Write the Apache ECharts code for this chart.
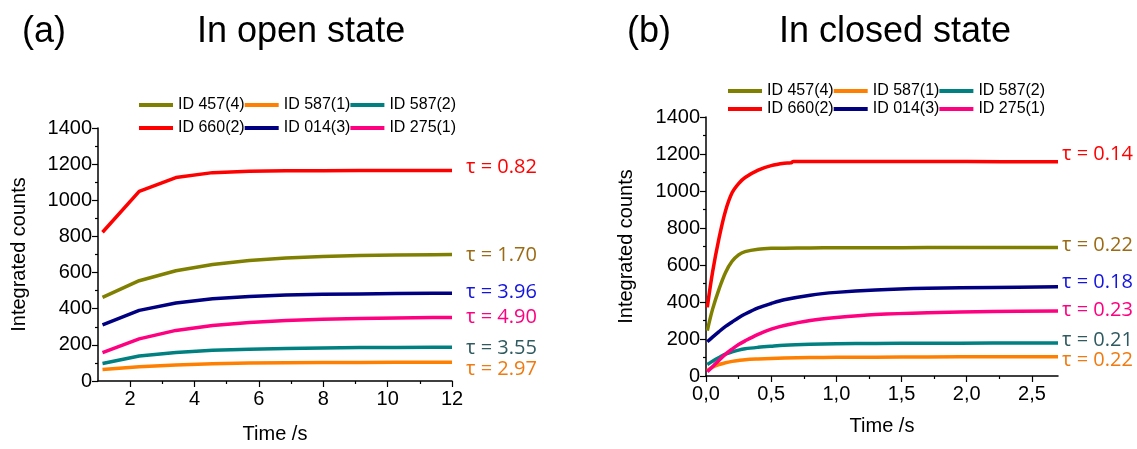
<!DOCTYPE html>
<html><head><meta charset="utf-8">
<script src="https://cdn.jsdelivr.net/npm/echarts@6/dist/echarts.min.js"></script>
<style>html,body{margin:0;padding:0;background:#fff}#c{width:1137px;height:449px}</style>
</head><body><div id="c"></div>
<script>
// ---- data ----
const seriesNames = ['ID 457(4)', 'ID 587(1)', 'ID 587(2)', 'ID 660(2)', 'ID 014(3)', 'ID 275(1)'];
const lineColors = ['#808000', '#FF8000', '#008080', '#FF0000', '#000080', '#FF0080'];
const tauColors = ['#9C6A14', '#F07A10', '#2F5A60', '#FF0000', '#1414E0', '#FF0080'];

// (a) open state
const tOpen = [1.14, 2.28, 3.42, 4.56, 5.70, 6.84, 7.98, 9.12, 10.26, 11.40, 12.0];
const open457 = [463, 555, 610, 645, 667, 681, 689, 694, 697, 699, 700];
const open587_1 = [63, 79, 89, 95, 99, 101, 102, 103, 104, 104, 104];
const open587_2 = [97, 138, 158, 170, 176, 180, 183, 185, 186, 187, 187];
const open660 = [823, 1049, 1126, 1153, 1160, 1163, 1164, 1165, 1165, 1165, 1165];
const open014 = [310, 391, 432, 455, 468, 476, 480, 482, 484, 485, 485];
const open275 = [157, 233, 280, 307, 324, 335, 342, 346, 349, 351, 352];
const tauOpen = ['1.70', '2.97', '3.55', '0.82', '3.96', '4.90'];

// (b) closed state
const tClosed = [0.01, 0.05, 0.1, 0.15, 0.2, 0.25, 0.3, 0.4, 0.5, 0.6, 0.8, 1.0, 1.3, 1.7, 2.2, 2.7];
const closed457 = [245, 360, 470, 560, 620, 655, 672, 685, 690, 691, 692, 693, 693, 694, 694, 694];
const closed587_1 = [30, 48, 62, 72, 79, 84, 88, 92, 95, 97, 100, 101, 102, 103, 104, 104];
const closed587_2 = [62, 80, 100, 118, 130, 140, 147, 155, 161, 166, 171, 174, 176, 177, 178, 178];
const closed014 = [185, 210, 240, 268, 292, 315, 335, 368, 392, 412, 437, 452, 465, 474, 479, 482];
const closed275 = [23, 50, 85, 118, 145, 170, 190, 225, 253, 273, 300, 316, 332, 342, 348, 351];
const tClosed660 = [0.01, 0.05, 0.1, 0.15, 0.2, 0.25, 0.3, 0.4, 0.5, 0.6, 0.65, 0.67, 0.9, 1.5, 2.0, 2.7];
const closed660 = [371, 560, 745, 893, 990, 1040, 1073, 1113, 1137, 1150, 1152, 1159, 1160, 1159, 1159, 1158];
const tauClosed = ['0.22', '0.22', '0.21', '0.14', '0.18', '0.23'];

// ticks
const yTicks = [0, 200, 400, 600, 800, 1000, 1200, 1400];
const xTicksOpen = [2, 4, 6, 8, 10, 12];
const xMinorOpen = [3, 5, 7, 9, 11];
const xTicksClosed = [0, 0.5, 1.0, 1.5, 2.0, 2.5];
const xMinorClosed = [0.25, 0.75, 1.25, 1.75, 2.25];

// ---- build ----
const FONT = 'Liberation Sans, Arial, sans-serif';
const openX = [tOpen, tOpen, tOpen, tOpen, tOpen, tOpen];
const openY = [open457, open587_1, open587_2, open660, open014, open275];
const closedX = [tClosed, tClosed, tClosed, tClosed660, tClosed, tClosed];
const closedY = [closed457, closed587_1, closed587_2, closed660, closed014, closed275];
const openDy = [1, 7, 1, -3, -1, 0];
const closedDy = [-2, 4, -3, -7, -5, -1];

function mk(i, xs, ys, g, tau, dy, dist, smooth) {
  return {
    type: 'line', name: seriesNames[i],
    xAxisIndex: g * 2, yAxisIndex: g,
    data: xs.map((x, k) => [x, ys[k]]),
    symbol: 'none', showSymbol: false,
    smooth: smooth,
    lineStyle: { color: lineColors[i], width: 3.5 },
    itemStyle: { color: lineColors[i] },
    endLabel: {
      show: true, formatter: 'τ = ' + tau, color: tauColors[i],
      fontSize: 20, fontFamily: 'Open Sans', distance: dist, offset: [0, dy]
    },
    emphasis: { disabled: true }
  };
}
const series = [];
for (let i = 0; i < 6; i++) series.push(mk(i, openX[i], openY[i], 0, tauOpen[i], openDy[i], 14, false));
for (let i = 0; i < 6; i++) series.push(mk(i, closedX[i], closedY[i], 1, tauClosed[i], closedDy[i], 4, 0.35));

const axisText = { fontSize: 20, color: '#000', fontFamily: FONT };
function xMain(g, min, max, ticks, fmt, gap) {
  return {
    type: 'value', gridIndex: g, position: 'bottom', min: min, max: max,
    axisLine: { show: true, onZero: false, lineStyle: { color: '#000', width: 1.5 } },
    axisTick: { show: true, length: 6, customValues: ticks, lineStyle: { color: '#000', width: 1.2 } },
    axisLabel: Object.assign({ customValues: ticks, margin: 8, formatter: fmt }, axisText),
    splitLine: { show: false },
    name: 'Time /s', nameLocation: 'middle', nameGap: gap, nameTextStyle: axisText
  };
}
function xMinor(g, min, max, ticks) {
  return {
    type: 'value', gridIndex: g, position: 'bottom', min: min, max: max,
    axisLine: { show: false, onZero: false },
    axisTick: { show: true, length: 3, customValues: ticks, lineStyle: { color: '#000', width: 1.2 } },
    axisLabel: { show: false }, splitLine: { show: false }
  };
}
function yAx(g, gap) {
  return {
    type: 'value', gridIndex: g, min: 0, max: 1400, interval: 200,
    axisLine: { show: true, lineStyle: { color: '#000', width: 1.5 } },
    axisTick: { show: true, length: 6, lineStyle: { color: '#000', width: 1.2 } },
    minorTick: { show: true, splitNumber: 2, length: 3, lineStyle: { color: '#000', width: 1.2 } },
    axisLabel: Object.assign({ margin: 6, customValues: yTicks, formatter: v => String(v) }, axisText),
    splitLine: { show: false },
    name: 'Integrated counts', nameLocation: 'middle', nameGap: gap, nameRotate: 90, nameTextStyle: axisText
  };
}
const commaFmt = v => v.toFixed(1).replace('.', ',');

function legend(names, left, top) {
  return {
    data: names, left: left, top: top, orient: 'horizontal', padding: 0,
    itemGap: 0, itemWidth: 34, itemHeight: 4, icon: 'rect',
    textStyle: { fontSize: 16, color: '#000', fontFamily: FONT }
  };
}

const option = {
  animation: false,
  backgroundColor: '#fff',
  grid: [
    { left: 98, top: 128, width: 354, height: 259 },
    { left: 706, top: 117, width: 352, height: 259 }
  ],
  xAxis: [
    xMain(0, 1, 12, xTicksOpen, v => String(v), 43),
    xMinor(0, 1, 12, xMinorOpen),
    xMain(1, 0, 2.7, xTicksClosed, commaFmt, 40),
    xMinor(1, 0, 2.7, xMinorClosed)
  ],
  yAxis: [yAx(0, 69), yAx(1, 70)],
  legend: [
    legend(seriesNames.slice(0, 3), 139, 97),
    legend(seriesNames.slice(3, 6), 139, 120),
    legend(seriesNames.slice(0, 3), 728, 83),
    legend(seriesNames.slice(3, 6), 728, 101)
  ],
  graphic: [
    { type: 'text', left: 22, top: 14, style: { text: '(a)', font: '36px ' + FONT, fill: '#000' } },
    { type: 'text', left: 197, top: 14, style: { text: 'In open state', font: '36px ' + FONT, fill: '#000' } },
    { type: 'text', left: 627, top: 14, style: { text: '(b)', font: '36px ' + FONT, fill: '#000' } },
    { type: 'text', left: 779, top: 14, style: { text: 'In closed state', font: '36px ' + FONT, fill: '#000' } }
  ],
  series: series
};
const chart = echarts.init(document.getElementById('c'), null, { renderer: 'canvas' });
chart.setOption(option);
</script>
</body></html>
